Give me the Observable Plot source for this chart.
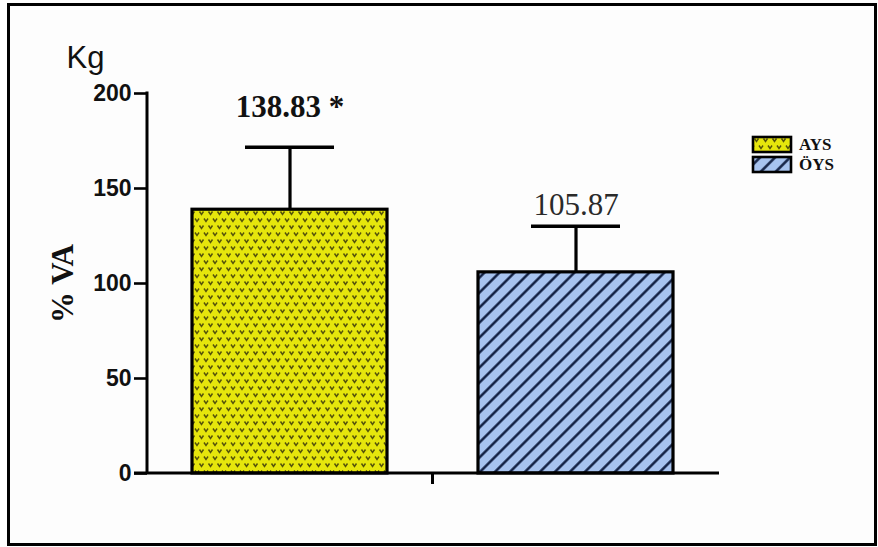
<!DOCTYPE html>
<html>
<head>
<meta charset="utf-8">
<script src="https://cdn.jsdelivr.net/npm/d3@7"></script>
<script src="https://cdn.jsdelivr.net/npm/@observablehq/plot@0.6"></script>
<style>
  body { margin: 0; background: #fff; }
  #wrap { position: relative; width: 878px; height: 547px; overflow: hidden; background: #fdfdfd; }
  #border { position: absolute; left: 7px; top: 3px; width: 870px; height: 543px; border: 3px solid #000; box-sizing: border-box; pointer-events: none; }
  #chart, #legend { position: absolute; left: 0; top: 0; }
  #defs { position: absolute; width: 0; height: 0; }
</style>
</head>
<body>
<div id="wrap">
  <svg id="defs" width="0" height="0">
    <defs>
      <pattern id="dots" width="9" height="14" patternUnits="userSpaceOnUse">
        <rect width="9" height="14" fill="#e6e60c"></rect>
        <path d="M1.5,1.5 l2,3 l2,-3 M6,8.5 l2,3 l2,-3 M-3,8.5 l2,3 l2,-3" fill="none" stroke="#55530a" stroke-width="1.5"></path>
      </pattern>
      <pattern id="hatch" width="10.6" height="10.6" patternUnits="userSpaceOnUse" patternTransform="rotate(45)">
        <rect width="10.6" height="10.6" fill="#a7c3ef"></rect>
        <line x1="5.3" y1="-1" x2="5.3" y2="12" stroke="#0c1a3c" stroke-width="2.4"></line>
      </pattern>
    </defs>
  </svg>
  <div id="chart"></div>
  <svg id="legend" width="878" height="547"></svg>
  <div id="border"></div>
</div>
<script>
// Groups, means, standard deviations and the value labels printed above the bars
const groups = ["AYS", "ÖYS"];
const means = [138.83, 105.87];
const sds = [32.9, 24.3];
const labels = ["138.83 *", "105.87"];
const yTicks = [0, 50, 100, 150, 200];
const yTitle = "% VA";
const unitTitle = "Kg";

const fillFor = {"AYS": "url(#dots)", "ÖYS": "url(#hatch)"};

const rows = groups.map((g, i) => ({group: g, mean: means[i], sd: sds[i], label: labels[i]}));

// axis lines plus the single category tick between the two bars
function axisLines(index, scales, values, dimensions) {
  const {x, y} = scales;
  const {width, marginLeft, marginRight} = dimensions;
  const g = d3.create("svg:g").attr("stroke", "#000").attr("stroke-width", 3).attr("fill", "none");
  g.append("line").attr("x1", marginLeft).attr("x2", marginLeft).attr("y1", y(0)).attr("y2", y(200) - 1.5);
  g.append("line").attr("x1", marginLeft - 13).attr("x2", width - marginRight).attr("y1", y(0)).attr("y2", y(0));
  const mid = (x(groups[0]) + x.bandwidth() + x(groups[1])) / 2;
  g.append("line").attr("x1", mid).attr("x2", mid).attr("y1", y(0)).attr("y2", y(0) + 11);
  return g.node();
}

const chart = Plot.plot({
  width: 878,
  height: 547,
  marginLeft: 147,
  marginRight: 159,
  marginTop: 93,
  marginBottom: 74,
  style: {background: "transparent", overflow: "visible"},
  x: {domain: groups, paddingInner: 0.318, paddingOuter: 0.159, axis: null},
  y: {domain: [0, 200], axis: null},
  color: {type: "identity"},
  marks: [
    Plot.ruleX(rows, {x: "group", y1: "mean", y2: d => d.mean + d.sd, stroke: "#000", strokeWidth: 3.2}),
    Plot.tickY(rows, {x: "group", y: d => d.mean + d.sd, stroke: "#000", strokeWidth: 3.6, insetLeft: 53, insetRight: 53}),
    Plot.barY(rows, {x: "group", y: "mean", fill: d => fillFor[d.group], stroke: "#000", strokeWidth: 3.2}),
    Plot.axisY(yTicks, {tickSize: 13, tickPadding: 3, strokeWidth: 2.6, fontSize: 23, fontWeight: "bold", fontFamily: "Liberation Sans, Arial, sans-serif", fill: "#111", label: null}),
    axisLines,
    Plot.text(rows, {filter: d => d.label.includes("*"), x: "group", y: d => d.mean + d.sd, text: "label", dy: -40,
      fontSize: 31, fontWeight: "bold", fontFamily: "Liberation Serif, Times New Roman, serif", fill: "#111"}),
    Plot.text(rows, {filter: d => !d.label.includes("*"), x: "group", y: d => d.mean + d.sd, text: "label", dy: -21,
      fontSize: 31, fontFamily: "Liberation Serif, Times New Roman, serif", fill: "#2a2a2a"}),
    Plot.text([unitTitle], {text: d => d, frameAnchor: "top-left", textAnchor: "middle", dx: -62, dy: -48,
      fontSize: 31, fontFamily: "Liberation Sans, Arial, sans-serif", fill: "#111"}),
    Plot.text([yTitle], {text: d => d, frameAnchor: "left", textAnchor: "middle", dx: -84, rotate: -90,
      fontSize: 31, fontWeight: "bold", fontFamily: "Liberation Serif, Times New Roman, serif", fill: "#111"})
  ]
});
document.getElementById("chart").appendChild(chart);

// legend: one patterned swatch per group
const legend = d3.select("#legend");
const item = legend.selectAll("g").data(groups).join("g")
  .attr("transform", (d, i) => `translate(753, ${137 + i * 20})`);
item.append("rect").attr("width", 38).attr("height", 15)
  .attr("fill", d => fillFor[d]).attr("stroke", "#000").attr("stroke-width", 2.6);
item.append("text").text(d => d).attr("x", 46).attr("y", 13)
  .attr("font-family", "Liberation Serif, Times New Roman, serif").attr("font-weight", "bold")
  .attr("font-size", 17).attr("fill", "#111");
</script>
</body>
</html>
